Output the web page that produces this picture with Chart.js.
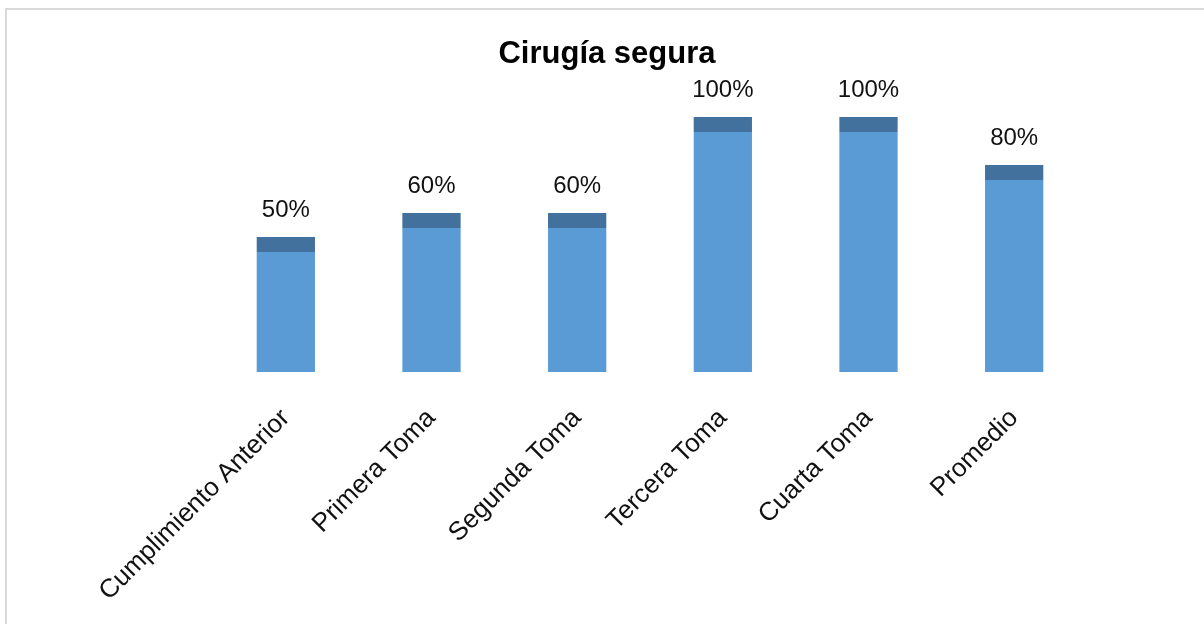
<!DOCTYPE html>
<html>
<head>
<meta charset="utf-8">
<script src="https://cdn.jsdelivr.net/npm/chart.js@4/dist/chart.umd.min.js"></script>
<style>
  html, body { margin: 0; padding: 0; background: #fff; overflow: hidden; }
  #frame { position: absolute; left: 5px; top: 8px; width: 1300px; height: 700px;
           border-left: 2px solid #d9d9d9; border-top: 2px solid #d9d9d9; }
  #chart { position: absolute; left: 0; top: 0; }
</style>
</head>
<body>
<div id="frame"></div>
<canvas id="chart" width="1204" height="624"></canvas>
<script>
const categories = ['Cumplimiento Anterior', 'Primera Toma', 'Segunda Toma', 'Tercera Toma', 'Cuarta Toma', 'Promedio'];
const values = [50, 60, 60, 100, 100, 80];
const chartTitle = 'Cirugía segura';

const FONT = '"Liberation Sans", Arial, sans-serif';
const BAR_COLOR = '#5B9BD5';
const TOP_COLOR = '#41719C';
const TOP_DEPTH = 15;

// Darker top face above each bar plus the percentage label
const barTops = {
  id: 'barTops',
  afterDatasetsDraw(chart) {
    const ctx = chart.ctx;
    const meta = chart.getDatasetMeta(0);
    ctx.save();
    meta.data.forEach((bar, i) => {
      const w = bar.width;
      ctx.fillStyle = TOP_COLOR;
      ctx.fillRect(bar.x - w / 2, bar.y - TOP_DEPTH, w, TOP_DEPTH);
      ctx.fillStyle = '#111';
      ctx.font = '24px ' + FONT;
      ctx.textAlign = 'center';
      ctx.textBaseline = 'alphabetic';
      ctx.fillText(values[i] + '%', bar.x, bar.y - TOP_DEPTH - 20);
    });
    ctx.restore();
  }
};

// Empty side axes that only reserve room around the plot
const spacer = (w) => ({
  display: true,
  ticks: { display: false },
  grid: { display: false },
  border: { display: false },
  afterFit(scale) { scale.width = w; }
});

new Chart(document.getElementById('chart'), {
  type: 'bar',
  data: {
    labels: categories,
    datasets: [{
      data: values,
      backgroundColor: BAR_COLOR,
      borderWidth: 0,
      categoryPercentage: 1,
      barPercentage: 0.4,
      clip: false
    }]
  },
  options: {
    responsive: false,
    animation: false,
    layout: { padding: { left: 10, right: 0, top: 0, bottom: 0 } },
    plugins: {
      legend: { display: false },
      tooltip: { enabled: false },
      title: {
        display: true,
        text: chartTitle,
        color: '#000',
        font: { family: FONT, size: 31, weight: 'bold' },
        padding: { top: 36, bottom: 58.8 }
      }
    },
    scales: {
      x: {
        grid: { display: false },
        border: { display: false },
        ticks: {
          color: '#111',
          font: { family: FONT, size: 26 },
          minRotation: 45,
          maxRotation: 45,
          autoSkip: false,
          padding: 23
        },
        afterFit(scale) { scale.height = 252; }
      },
      y: Object.assign(spacer(203), { position: 'left', min: 0, max: 100 }),
      yRight: Object.assign(spacer(117), { position: 'right', min: 0, max: 100 })
    }
  },
  plugins: [barTops]
});
</script>
</body>
</html>
